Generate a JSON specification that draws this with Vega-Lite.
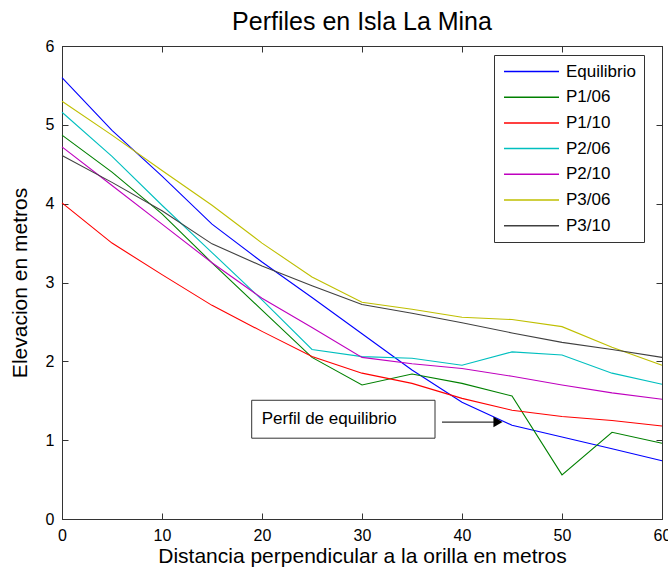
{
  "$schema": "https://vega.github.io/schema/vega-lite/v6.json",
  "width": 600,
  "height": 473,
  "autosize": {"type": "none"},
  "padding": {"left": 62, "top": 46, "right": 6, "bottom": 56},
  "background": "white",
  "title": {"text": "Perfiles en Isla La Mina", "fontSize": 25, "font": "Liberation Sans", "fontWeight": "normal", "color": "black", "baseline": "bottom", "offset": 0, "dy": 22},
  "config": {
    "view": {"stroke": "#333", "strokeWidth": 1},
    "axis": {"grid": false, "labelFlush": false, "labelFont": "Liberation Sans", "labelFontSize": 16, "labelColor": "black", "titleFont": "Liberation Sans", "titleFontSize": 21, "titleFontWeight": "normal", "titleColor": "black", "domainColor": "#333", "tickColor": "#333", "tickSize": -6, "labelPadding": 14}
  },
  "datasets": {
    "perfiles": [
      {"x": 0, "y": 5.6, "s": "Equilibrio"}, {"x": 5, "y": 4.93, "s": "Equilibrio"}, {"x": 10, "y": 4.35, "s": "Equilibrio"}, {"x": 15, "y": 3.74, "s": "Equilibrio"}, {"x": 20, "y": 3.26, "s": "Equilibrio"}, {"x": 25, "y": 2.81, "s": "Equilibrio"}, {"x": 30, "y": 2.35, "s": "Equilibrio"}, {"x": 35, "y": 1.89, "s": "Equilibrio"}, {"x": 40, "y": 1.48, "s": "Equilibrio"}, {"x": 45, "y": 1.19, "s": "Equilibrio"}, {"x": 50, "y": 1.04, "s": "Equilibrio"}, {"x": 55, "y": 0.89, "s": "Equilibrio"}, {"x": 60, "y": 0.74, "s": "Equilibrio"},
      {"x": 0, "y": 4.87, "s": "P1/06"}, {"x": 5, "y": 4.4, "s": "P1/06"}, {"x": 10, "y": 3.87, "s": "P1/06"}, {"x": 15, "y": 3.25, "s": "P1/06"}, {"x": 20, "y": 2.65, "s": "P1/06"}, {"x": 25, "y": 2.05, "s": "P1/06"}, {"x": 30, "y": 1.7, "s": "P1/06"}, {"x": 35, "y": 1.84, "s": "P1/06"}, {"x": 40, "y": 1.72, "s": "P1/06"}, {"x": 45, "y": 1.56, "s": "P1/06"}, {"x": 50, "y": 0.56, "s": "P1/06"}, {"x": 55, "y": 1.1, "s": "P1/06"}, {"x": 60, "y": 0.96, "s": "P1/06"},
      {"x": 0, "y": 4.01, "s": "P1/10"}, {"x": 5, "y": 3.5, "s": "P1/10"}, {"x": 10, "y": 3.1, "s": "P1/10"}, {"x": 15, "y": 2.71, "s": "P1/10"}, {"x": 20, "y": 2.38, "s": "P1/10"}, {"x": 25, "y": 2.06, "s": "P1/10"}, {"x": 30, "y": 1.85, "s": "P1/10"}, {"x": 35, "y": 1.72, "s": "P1/10"}, {"x": 40, "y": 1.53, "s": "P1/10"}, {"x": 45, "y": 1.38, "s": "P1/10"}, {"x": 50, "y": 1.3, "s": "P1/10"}, {"x": 55, "y": 1.25, "s": "P1/10"}, {"x": 60, "y": 1.18, "s": "P1/10"},
      {"x": 0, "y": 5.16, "s": "P2/06"}, {"x": 5, "y": 4.6, "s": "P2/06"}, {"x": 10, "y": 3.98, "s": "P2/06"}, {"x": 15, "y": 3.38, "s": "P2/06"}, {"x": 20, "y": 2.78, "s": "P2/06"}, {"x": 25, "y": 2.15, "s": "P2/06"}, {"x": 30, "y": 2.06, "s": "P2/06"}, {"x": 35, "y": 2.04, "s": "P2/06"}, {"x": 40, "y": 1.95, "s": "P2/06"}, {"x": 45, "y": 2.12, "s": "P2/06"}, {"x": 50, "y": 2.08, "s": "P2/06"}, {"x": 55, "y": 1.85, "s": "P2/06"}, {"x": 60, "y": 1.71, "s": "P2/06"},
      {"x": 0, "y": 4.72, "s": "P2/10"}, {"x": 5, "y": 4.23, "s": "P2/10"}, {"x": 10, "y": 3.74, "s": "P2/10"}, {"x": 15, "y": 3.25, "s": "P2/10"}, {"x": 20, "y": 2.8, "s": "P2/10"}, {"x": 25, "y": 2.43, "s": "P2/10"}, {"x": 30, "y": 2.05, "s": "P2/10"}, {"x": 35, "y": 1.97, "s": "P2/10"}, {"x": 40, "y": 1.91, "s": "P2/10"}, {"x": 45, "y": 1.81, "s": "P2/10"}, {"x": 50, "y": 1.7, "s": "P2/10"}, {"x": 55, "y": 1.6, "s": "P2/10"}, {"x": 60, "y": 1.52, "s": "P2/10"},
      {"x": 0, "y": 5.3, "s": "P3/06"}, {"x": 5, "y": 4.87, "s": "P3/06"}, {"x": 10, "y": 4.42, "s": "P3/06"}, {"x": 15, "y": 3.98, "s": "P3/06"}, {"x": 20, "y": 3.5, "s": "P3/06"}, {"x": 25, "y": 3.07, "s": "P3/06"}, {"x": 30, "y": 2.75, "s": "P3/06"}, {"x": 35, "y": 2.66, "s": "P3/06"}, {"x": 40, "y": 2.56, "s": "P3/06"}, {"x": 45, "y": 2.53, "s": "P3/06"}, {"x": 50, "y": 2.44, "s": "P3/06"}, {"x": 55, "y": 2.18, "s": "P3/06"}, {"x": 60, "y": 1.95, "s": "P3/06"},
      {"x": 0, "y": 4.61, "s": "P3/10"}, {"x": 5, "y": 4.27, "s": "P3/10"}, {"x": 10, "y": 3.91, "s": "P3/10"}, {"x": 15, "y": 3.49, "s": "P3/10"}, {"x": 20, "y": 3.21, "s": "P3/10"}, {"x": 25, "y": 2.96, "s": "P3/10"}, {"x": 30, "y": 2.72, "s": "P3/10"}, {"x": 35, "y": 2.61, "s": "P3/10"}, {"x": 40, "y": 2.49, "s": "P3/10"}, {"x": 45, "y": 2.36, "s": "P3/10"}, {"x": 50, "y": 2.24, "s": "P3/10"}, {"x": 55, "y": 2.15, "s": "P3/10"}, {"x": 60, "y": 2.05, "s": "P3/10"}
    ],
    "caja": [{"x": 18.97, "x2": 37.3, "y": 1.025, "y2": 1.506, "texto": "Perfil de equilibrio", "tx": 19.97, "ty": 1.27}],
    "flecha": [{"x": 38.0, "x2": 43.3, "y": 1.23, "tip": 43.6}]
  },
  "resolve": {"scale": {"x": "shared", "y": "shared"}, "axis": {"x": "independent", "y": "independent"}},
  "layer": [
    {
      "data": {"name": "perfiles"},
      "mark": {"type": "line", "strokeWidth": 1.1},
      "encoding": {
        "x": {"field": "x", "type": "quantitative", "scale": {"domain": [0, 60], "nice": false}, "axis": {"orient": "bottom", "values": [0, 10, 20, 30, 40, 50, 60], "title": "Distancia perpendicular a la orilla en metros", "titlePadding": 2}},
        "y": {"field": "y", "type": "quantitative", "scale": {"domain": [0, 6], "nice": false}, "axis": {"orient": "left", "values": [0, 1, 2, 3, 4, 5, 6], "title": "Elevacion en metros", "titlePadding": 15}},
        "color": {"field": "s", "type": "nominal", "scale": {"domain": ["Equilibrio", "P1/06", "P1/10", "P2/06", "P2/10", "P3/06", "P3/10"], "range": ["#0000ff", "#008000", "#ff0000", "#00bfbf", "#bf00bf", "#bfbf00", "#404040"]},
          "legend": {"title": null, "orient": "none", "legendX": 432, "legendY": 9, "strokeColor": "#333", "fillColor": "white", "padding": 8, "symbolType": "M-10,0H10", "symbolSize": 30.25, "symbolStrokeWidth": 1.5, "symbolOffset": 21, "labelFont": "Liberation Sans", "labelFontSize": 17, "labelColor": "black", "rowPadding": 7.7, "labelOffset": 26}}
      }
    },
    {
      "data": {"name": "caja"},
      "mark": {"type": "rect", "fill": "white", "stroke": "#333", "strokeWidth": 1},
      "encoding": {
        "x": {"field": "x", "type": "quantitative", "axis": {"orient": "top", "values": [0, 10, 20, 30, 40, 50, 60], "labels": false, "title": null}},
        "x2": {"field": "x2"},
        "y": {"field": "y", "type": "quantitative", "axis": {"orient": "right", "values": [0, 1, 2, 3, 4, 5, 6], "labels": false, "title": null}},
        "y2": {"field": "y2"}
      }
    },
    {
      "data": {"name": "caja"},
      "mark": {"type": "text", "align": "left", "baseline": "middle", "font": "Liberation Sans", "fontSize": 17, "color": "black"},
      "encoding": {
        "x": {"field": "tx", "type": "quantitative", "axis": null},
        "y": {"field": "ty", "type": "quantitative", "axis": null},
        "text": {"field": "texto"}
      }
    },
    {
      "data": {"name": "flecha"},
      "mark": {"type": "rule", "color": "#333", "strokeWidth": 1.2},
      "encoding": {
        "x": {"field": "x", "type": "quantitative", "axis": null},
        "x2": {"field": "x2"},
        "y": {"field": "y", "type": "quantitative", "axis": null}
      }
    },
    {
      "data": {"name": "flecha"},
      "mark": {"type": "point", "shape": "triangle-right", "filled": true, "color": "black", "size": 110, "opacity": 1},
      "encoding": {
        "x": {"field": "tip", "type": "quantitative", "axis": null},
        "y": {"field": "y", "type": "quantitative", "axis": null}
      }
    }
  ]
}
